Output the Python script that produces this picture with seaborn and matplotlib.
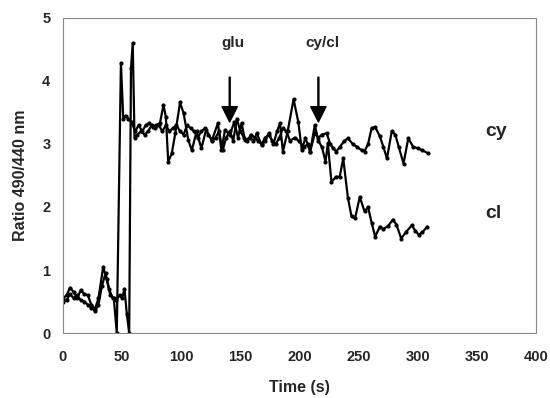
import numpy as np
import pandas as pd
import seaborn as sns
import matplotlib.pyplot as plt

# time (s) and ratio values
t_cl = [0, 3, 6, 9, 12, 15, 18, 21, 24, 27, 30, 34, 37, 40, 43, 45.5, 49, 51, 53, 55, 58,
        61, 64, 67, 70, 73, 76, 79, 82, 85, 87, 89, 92, 95, 99, 102, 106, 109, 113, 117,
        121, 126, 131, 134, 137, 141, 145, 148, 151, 154, 158, 161, 164, 168, 171, 174,
        178, 181, 183.5, 186, 190, 195, 199, 202, 205, 209, 213, 216, 219, 222, 224, 227,
        231, 234, 237, 241, 244, 247, 251, 255, 258, 261, 264, 268, 271, 275, 279, 282,
        286, 290, 295, 298, 301, 304, 308]
r_cl = [0.55, 0.6, 0.72, 0.65, 0.55, 0.68, 0.62, 0.6, 0.45, 0.38, 0.55, 1.05, 0.85, 0.6, 0.55,
        0.0, 4.28, 3.4, 3.45, 3.4, 3.35,
        3.2, 3.3, 3.2, 3.3, 3.33, 3.27, 3.3, 3.33, 3.62, 3.43, 2.72, 2.85, 3.17, 3.66, 3.49,
        3.06, 2.9, 3.2, 2.93, 3.22, 3.06, 3.33, 2.9, 3.22, 3.15, 3.35, 3.1, 3.33, 3.06, 3.1,
        3.05, 3.17, 2.98, 3.05, 3.17, 3.0, 3.2, 3.33, 2.88, 3.2, 3.71, 3.35, 2.9, 3.1, 2.88,
        3.3, 3.05, 2.95, 2.72, 3.01, 2.4, 2.48, 2.48, 2.77, 2.14, 1.85, 1.82, 2.16, 1.93, 2.0,
        1.75, 1.53, 1.69, 1.65, 1.7, 1.8, 1.72, 1.5, 1.6, 1.71, 1.62, 1.56, 1.6, 1.69]

t_cy = [0, 3, 6, 9, 12, 15, 18, 21, 24, 27, 30, 33, 36, 39, 42, 45, 48, 50, 52, 54, 56,
        57.5, 59, 60.5, 63, 66, 69, 72, 75, 78, 81, 84, 87, 90, 93, 96, 99, 102, 105, 108,
        111, 114, 117, 120, 123, 126, 129, 132, 135, 138, 141, 144, 147, 150, 153, 156, 159,
        162, 165, 168, 171, 174, 177, 180, 183, 186, 189, 192, 196, 200, 204, 207, 209, 213,
        216, 219, 223, 226, 228.6, 231, 234, 238, 241, 245, 249, 252.6, 255, 258, 261, 264,
        268, 271, 274, 278, 281, 284, 288, 292, 296, 300, 304, 309]
r_cy = [0.5, 0.52, 0.62, 0.55, 0.6, 0.52, 0.5, 0.45, 0.4, 0.35, 0.45, 0.75, 0.95, 0.7, 0.55,
        0.52, 0.6, 0.55, 0.7, 0.3, 0.0,
        4.2, 4.6, 3.1, 3.15, 3.2, 3.15, 3.2, 3.3, 3.25, 3.3, 3.2, 3.3, 3.2, 3.25, 3.3, 3.2,
        3.15, 3.3, 3.25, 3.2, 3.1, 3.2, 3.25, 3.15, 3.05, 3.1, 3.2, 2.9, 3.1, 3.2, 3.05, 3.4,
        3.2, 3.1, 3.05, 3.15, 3.1, 3.05, 3.0, 3.1, 3.15, 3.05, 3.0, 3.1, 3.25, 3.2, 3.05, 3.1,
        3.04, 2.95, 3.0, 2.88, 3.17, 3.1, 3.15, 3.17, 3.0, 2.93, 2.88, 2.95, 3.05, 3.09, 3.0,
        2.95, 2.9, 2.88, 3.0, 3.25, 3.27, 3.12, 2.95, 2.77, 3.2, 3.15, 2.95, 2.69, 3.09, 2.96,
        2.93, 2.9, 2.85]

df = pd.concat([
    pd.DataFrame({'Time': t_cy, 'Ratio': r_cy, 'trace': 'cy'}),
    pd.DataFrame({'Time': t_cl, 'Ratio': r_cl, 'trace': 'cl'}),
])

sns.set_style('white')
plt.rcParams['font.family'] = ['Liberation Sans', 'DejaVu Sans']

fig = plt.figure(figsize=(5.5, 3.98), dpi=100)
ax = fig.add_axes([0.1145, 0.1633, 0.86, 0.7915])

sns.lineplot(data=df, x='Time', y='Ratio', hue='trace', units='trace', estimator=None,
             palette=['black', 'black'], marker='o', markersize=3, markeredgewidth=0,
             linewidth=1.6, legend=False, ax=ax)

ax.set_xlim(0, 400)
ax.set_ylim(0, 5)
ax.set_xticks(range(0, 401, 50))
ax.set_yticks(range(0, 6))
ax.tick_params(direction='in', length=3, width=0.6, color='#777777', labelsize=10.5)
ax.tick_params(axis='x', pad=12)
ax.tick_params(axis='y', pad=9)
for lab in ax.get_xticklabels() + ax.get_yticklabels():
    lab.set_fontweight('bold')
for s in ax.spines.values():
    s.set_color('#888888')
    s.set_linewidth(0.8)

ax.set_xlabel('Time (s)', fontsize=11.5, fontweight='bold', labelpad=12)
ax.set_ylabel('Ratio 490/440 nm', fontsize=11.5, fontweight='bold', labelpad=10)

# stimulus arrows
for x, txt in [(141, 'glu'), (216, 'cy/cl')]:
    ax.annotate('', xy=(x, 3.35), xytext=(x, 4.06),
                arrowprops=dict(facecolor='black', edgecolor='black', width=0.7,
                                headwidth=11, headlength=11, shrink=0))
    ax.text(x + 3, 4.6, txt, ha='center', va='center', fontsize=11, fontweight='bold')

ax.text(357, 3.2, 'cy', fontsize=14, fontweight='bold', va='center')
ax.text(357, 1.9, 'cl', fontsize=14, fontweight='bold', va='center')

fig.savefig('out.png', dpi=100)
